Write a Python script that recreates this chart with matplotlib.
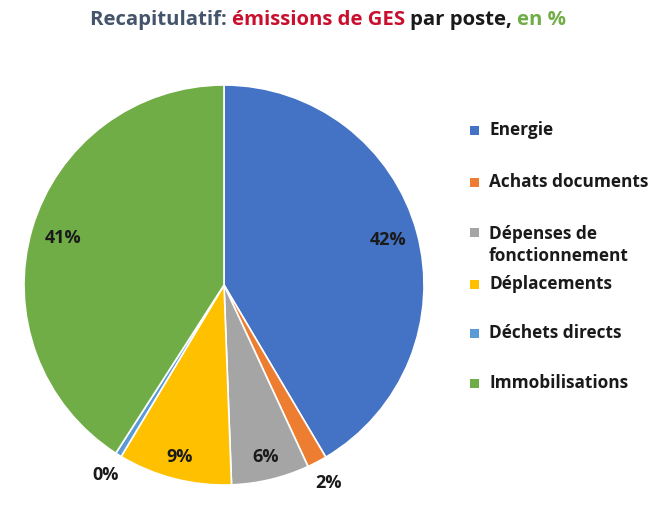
import numpy as np
import matplotlib
matplotlib.use("Agg")
import matplotlib.pyplot as plt
from matplotlib.patches import Rectangle

categories = ["Energie", "Achats documents", "Dépenses de\nfonctionnement",
              "Déplacements", "Déchets directs", "Immobilisations"]
values = [41.5, 1.6, 6.3, 9.2, 0.5, 40.9]
colors = ["#4472C4", "#ED7D31", "#A5A5A5", "#FFC000", "#5B9BD5", "#70AD47"]
title_parts = [("Recapitulatif: ", "#44546A"), ("émissions de GES ", "#C8102E"),
               ("par poste, ", "#1A1A1A"), ("en %", "#70AD47")]

FONT = ["Open Sans", "DejaVu Sans"]
W, H = 666, 509
fig = plt.figure(figsize=(W / 100, H / 100), dpi=100)
fig.patch.set_facecolor("white")

cx, cy, r = 224, 285, 200
ax = fig.add_axes([(cx - r) / W, (H - cy - r) / H, 2 * r / W, 2 * r / H])
wedges, _ = ax.pie(values, colors=colors, startangle=90, counterclock=False,
                   radius=1.0, wedgeprops=dict(edgecolor="white", linewidth=1.2))
ax.set_xlim(-1, 1)
ax.set_ylim(-1, 1)
ax.set_aspect("equal")
ax.axis("off")

# percentage labels
total = sum(values)
label_r = [0.85, 1.12, 0.885, 0.89, 1.12, 0.84]
cum = 0
for v, lr in zip(values, label_r):
    mid = 90 - (cum + v / 2) / total * 360
    cum += v
    a = np.deg2rad(mid)
    ax.text(lr * np.cos(a), lr * np.sin(a), f"{round(v / total * 100):.0f}%",
            ha="center", va="center", fontsize=13, fontweight="bold",
            color="#1A1A1A", family=FONT)

# multi-colour title
fig.canvas.draw()
renderer = fig.canvas.get_renderer()
texts = []
for s, c in title_parts:
    t = fig.text(0, 1 - 20 / H, s, color=c, fontsize=14.7, fontweight="bold",
                 family=FONT, va="center", ha="left")
    texts.append(t)
widths = [t.get_window_extent(renderer=renderer).width for t in texts]
total_w = sum(widths)
x0 = 328 - total_w / 2
for t, w in zip(texts, widths):
    t.set_x(x0 / W)
    x0 += w

# legend
leg_y = [130, 182, 232, 284, 333, 383]
for cat, col, ly in zip(categories, colors, leg_y):
    fig.add_artist(Rectangle((470 / W, (H - ly - 4.5) / H), 9 / W, 9 / H,
                             transform=fig.transFigure, color=col, lw=0))
    multi = "\n" in cat
    fig.text(489 / W, (H - ly - (13 if multi else 0)) / H, cat, fontsize=12.4,
             fontweight="bold", color="#1A1A1A", family=FONT,
             va="center", ha="left", linespacing=1.3)

fig.savefig("out.png", dpi=100, facecolor="white")
